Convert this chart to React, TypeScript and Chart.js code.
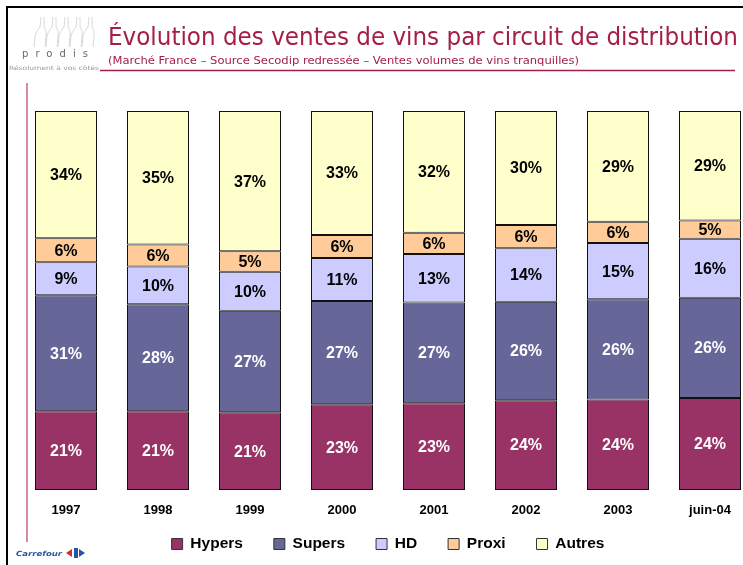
import { useEffect, useRef } from 'react';
import { Chart, registerables } from 'chart.js';

Chart.register(...registerables);

const categories = ['1997', '1998', '1999', '2000', '2001', '2002', '2003', 'juin-04'];
const hypers = [20.8, 20.8, 20.5, 22.6, 22.9, 23.7, 23.9, 24.3];
const supers = [30.6, 28.2, 26.8, 27.3, 26.6, 26.0, 26.4, 26.4];
const hd = [8.7, 10.0, 10.3, 11.3, 12.8, 14.1, 14.9, 15.6];
const proxi = [6.3, 5.8, 5.4, 6.1, 5.6, 6.1, 5.6, 4.8];
const autres = [33.6, 35.2, 37.0, 32.7, 32.1, 30.1, 29.2, 28.9];

const seriesNames = ['Hypers', 'Supers', 'HD', 'Proxi', 'Autres'];
const seriesColors = ['#993366', '#666699', '#CCCCFF', '#FFCC99', '#FFFFCC'];
const labelColors = ['#ffffff', '#ffffff', '#000000', '#000000', '#000000'];

const FONT = '"Liberation Sans", Arial, sans-serif';
const CRIMSON = '#a51f45';

const labelPlugin = {
  id: 'segLabels',
  afterDatasetsDraw(chart: any) {
    const ctx = chart.ctx;
    ctx.save();
    ctx.font = `bold 16px ${FONT}`;
    ctx.textAlign = 'center';
    ctx.textBaseline = 'middle';
    chart.data.datasets.forEach((ds: any, di: number) => {
      const meta = chart.getDatasetMeta(di);
      meta.data.forEach((el: any, i: number) => {
        const v = ds.data[i] as number;
        const p = el.getProps(['x', 'y', 'base'], true);
        ctx.fillStyle = labelColors[di];
        ctx.fillText(Math.round(v) + '%', p.x, (p.y + p.base) / 2 + 1);
      });
    });
    ctx.restore();
  },
};

export default function App() {
  const ref = useRef<HTMLCanvasElement>(null);

  useEffect(() => {
    document.body.style.margin = '0';
    const values = [hypers, supers, hd, proxi, autres];
    const chart = new Chart(ref.current as HTMLCanvasElement, {
      type: 'bar',
      data: {
        labels: categories,
        datasets: values.map((d, i) => ({
          label: seriesNames[i],
          data: d,
          backgroundColor: seriesColors[i],
          borderColor: '#111111',
          borderWidth: 1,
          borderSkipped: false,
          categoryPercentage: 1,
          barPercentage: 62 / 92,
        })),
      },
      options: {
        responsive: false,
        maintainAspectRatio: false,
        animation: false,
        layout: { padding: { left: 20, right: 24, top: 111, bottom: 3.25 } },
        plugins: {
          tooltip: { enabled: false },
          legend: {
            position: 'bottom',
            labels: {
              boxWidth: 11,
              boxHeight: 11,
              padding: 18,
              color: '#000',
              font: { family: FONT, size: 15.5, weight: 'bold' },
              generateLabels: (c: any) => {
                const items = Chart.defaults.plugins.legend.labels.generateLabels(c);
                items.forEach((it: any, i: number) => {
                  if (i < items.length - 1) it.text = it.text + '   ';
                  it.lineWidth = 1;
                  it.strokeStyle = '#333333';
                });
                return items;
              },
            },
          },
        },
        scales: {
          x: {
            stacked: true,
            grid: { display: false, drawTicks: false },
            border: { display: false },
            ticks: {
              color: '#000',
              padding: 13,
              font: { family: FONT, size: 13, weight: 'bold' },
            },
            afterFit: (scale: any) => {
              scale.height = 28.25;
            },
          },
          y: {
            stacked: true,
            display: false,
            min: 0,
            max: 100,
          },
        },
      },
      plugins: [labelPlugin],
    } as any);
    return () => chart.destroy();
  }, []);

  const bottleXs = [38, 50, 62, 74, 86];

  return (
    <div style={{ position: 'relative', width: 743, height: 565, overflow: 'hidden', background: '#fff' }}>
      <canvas ref={ref} width={780} height={565} style={{ position: 'absolute', left: 0, top: 0 }} />
      <svg width={743} height={565} style={{ position: 'absolute', left: 0, top: 0, pointerEvents: 'none' }}>
        <rect x={6} y={6} width={737} height={2} fill="#000" />
        <rect x={6} y={6} width={2} height={559} fill="#000" />
        <rect x={26} y={83} width={2} height={459} fill="#d58b9c" />
        {bottleXs.map((bx) => (
          <path
            key={bx}
            d={`M ${bx + 3} 17 L ${bx + 2} 27 Q ${bx - 2} 31 ${bx - 3} 36 L ${bx - 4} 47 M ${bx + 6} 17 L ${bx + 6} 27 Q ${bx + 9} 31 ${bx + 8} 36 L ${bx + 7} 47`}
            stroke="#d8d8d8"
            strokeWidth={1}
            fill="none"
          />
        ))}
        <text x={22} y={57} fontSize={10} fill="#6a6a6a" fontFamily="DejaVu Sans" textLength={66} lengthAdjust="spacing">
          prodis
        </text>
        <text x={9} y={70} fontSize={6} fill="#9a9a9a" fontFamily="DejaVu Sans" textLength={90} lengthAdjust="spacingAndGlyphs">
          Résolument à vos côtés
        </text>
        <text x={108} y={45} fontSize={24} fill={CRIMSON} fontFamily="DejaVu Sans" textLength={630} lengthAdjust="spacingAndGlyphs">
          Évolution des ventes de vins par circuit de distribution
        </text>
        <text x={108} y={64} fontSize={11} fill={CRIMSON} fontFamily="DejaVu Sans" textLength={471} lengthAdjust="spacingAndGlyphs">
          (Marché France – Source Secodip redressée – Ventes volumes de vins tranquilles)
        </text>
        <line x1={100} y1={70.5} x2={735} y2={70.5} stroke={CRIMSON} strokeWidth={1.5} />
        <text x={16} y={556} fontSize={7} fontWeight="bold" fontStyle="italic" fill="#2456a4" fontFamily="DejaVu Sans" textLength={46} lengthAdjust="spacingAndGlyphs">
          Carrefour
        </text>
        <path d="M 66 553 L 72 549 L 72 557 Z" fill="#d52b2b" />
        <path d="M 74 548 L 78 548 L 78 558 L 74 558 Z M 79 549 L 85 553 L 79 557 Z" fill="#2456a4" />
      </svg>
    </div>
  );
}
